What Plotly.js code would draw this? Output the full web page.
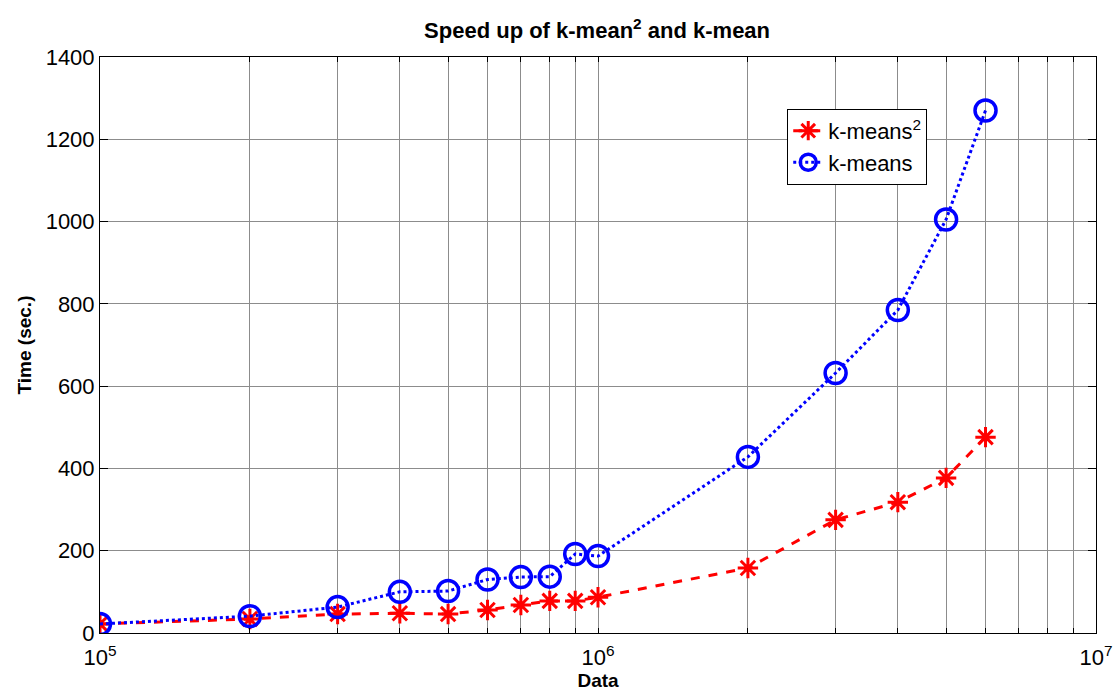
<!DOCTYPE html>
<html>
<head>
<meta charset="utf-8">
<script src="https://cdn.plot.ly/plotly-3.0.1.min.js"></script>
<style>html,body{margin:0;padding:0;background:#fff;}#chart{width:1116px;height:691px;}</style>
</head>
<body>
<div id="chart"></div>
<script>
const dataSizes = [1e5, 2e5, 3e5, 4e5, 5e5, 6e5, 7e5, 8e5, 9e5, 1e6, 2e6, 3e6, 4e6, 5e6, 6e6];
const kmeans2Times = [22, 34, 46, 48, 46, 56, 68, 78, 78, 87, 158, 275, 318, 377, 476];
const kmeansTimes = [22, 41, 63, 100, 102, 130, 136, 137, 192, 187, 428, 632, 785, 1005, 1270];
const xTickVals = [1e5,2e5,3e5,4e5,5e5,6e5,7e5,8e5,9e5,1e6,2e6,3e6,4e6,5e6,6e6,7e6,8e6,9e6,1e7];
const xTickText = ['10<sup>5</sup>','','','','','','','','','10<sup>6</sup>','','','','','','','','','10<sup>7</sup>'];
const yTickVals = [0, 200, 400, 600, 800, 1000, 1200, 1400];

const traces = [
  {
    x: dataSizes, y: kmeans2Times, name: 'k-means<sup>2</sup>', type: 'scatter', mode: 'lines+markers',
    line: {color: '#ff0000', width: 3, dash: 'dash'},
    marker: {symbol: 'asterisk-open', size: 17, color: '#ff0000', line: {color: '#ff0000', width: 3}}
  },
  {
    x: dataSizes, y: kmeansTimes, name: 'k-means', type: 'scatter', mode: 'lines+markers',
    line: {color: '#0000ff', width: 3, dash: 'dot'},
    marker: {symbol: 'circle-open', size: 21, color: '#0000ff', line: {color: '#0000ff', width: 3.5}}
  }
];

const layout = {
  width: 1116, height: 691,
  margin: {l: 100, r: 20, t: 57, b: 58},
  paper_bgcolor: '#fff', plot_bgcolor: '#fff',
  font: {family: 'Liberation Sans, Arial, sans-serif', color: '#000', size: 22},
  title: {text: '<b>Speed up of k-mean<sup>2</sup> and k-mean</b>', font: {size: 22}, x: 0.535, xanchor: 'center', y: 0.956, yanchor: 'middle'},
  xaxis: {
    type: 'log', range: [5, 7], tickmode: 'array', tickvals: xTickVals, ticktext: xTickText,
    showgrid: true, gridcolor: '#8c8c8c', gridwidth: 1,
    showline: true, linecolor: '#000', linewidth: 1, mirror: 'ticks',
    ticks: 'inside', ticklen: 5, tickcolor: '#000',
    tickfont: {size: 22}, zeroline: false, ticklabelstandoff: 5,
    title: {text: '<b>Data</b>', font: {size: 19}, standoff: 0}
  },
  yaxis: {
    range: [0, 1400], tickmode: 'array', tickvals: yTickVals,
    showgrid: true, gridcolor: '#8c8c8c', gridwidth: 1,
    showline: true, linecolor: '#000', linewidth: 1, mirror: 'ticks',
    ticks: 'inside', ticklen: 8, tickcolor: '#000',
    tickfont: {size: 22}, zeroline: false,
    title: {text: '<b>Time (sec.)</b>', font: {size: 19}, standoff: 8}
  },
  showlegend: true,
  legend: {
    x: 0.69, y: 0.91, xanchor: 'left', yanchor: 'top',
    bgcolor: '#fff', bordercolor: '#000', borderwidth: 1,
    font: {size: 22}, tracegroupgap: 0, itemwidth: 30
  }
};

Plotly.newPlot('chart', traces, layout, {displayModeBar: false, staticPlot: true});
</script>
</body>
</html>
